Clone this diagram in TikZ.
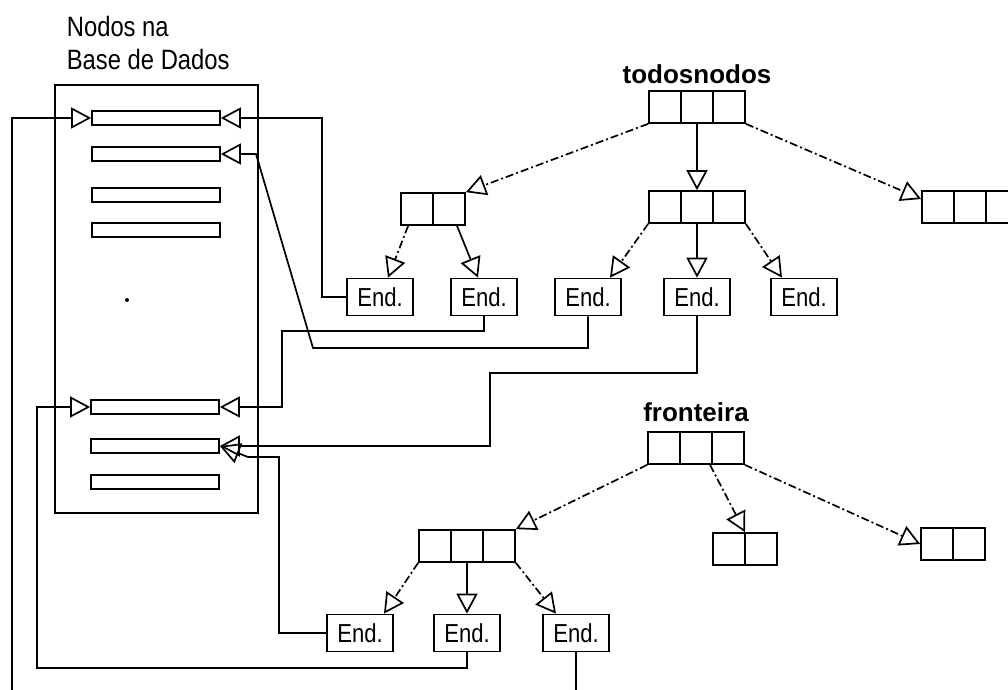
\documentclass[tikz,border=0pt]{standalone}
\usepackage{fontspec}
\setsansfont{Liberation Sans}[FakeStretch=0.85]
\newfontfamily\titlefont{Liberation Sans}
\usetikzlibrary{arrows.meta}

\begin{document}
\begin{tikzpicture}[x=0.5pt,y=-0.5pt,line width=0.85pt,
        >={Triangle[open,length=10pt,width=10.5pt]},
        bar/.style={draw,minimum width=64pt,minimum height=7pt,inner sep=0pt},
        cellsii/.style={draw,minimum width=32pt,minimum height=16pt,inner sep=0pt,
            path picture={\draw (path picture bounding box.north) -- (path picture bounding box.south);}},
        cellsiii/.style={draw,minimum width=48pt,minimum height=16pt,inner sep=0pt,
            path picture={\draw ([xshift=16pt]path picture bounding box.north west) -- ([xshift=16pt]path picture bounding box.south west);
                \draw ([xshift=-16pt]path picture bounding box.north east) -- ([xshift=-16pt]path picture bounding box.south east);}},
        endbox/.style={draw,font=\sffamily\fontsize{13}{13}\selectfont,minimum width=33pt,minimum height=18.5pt,inner sep=1pt},
        ptr/.style={dash pattern=on 4pt off 1.5pt on 1pt off 1.5pt},
        title/.style={font=\titlefont\bfseries\fontsize{13}{13}\selectfont,inner sep=0pt}]
        \useasboundingbox (0,0) rectangle (1008,690);
        \node[anchor=north west,align=left,inner sep=0pt,font=\sffamily\fontsize{14}{16.5}\selectfont] (dblabel) at (66,15) {Nodos na\\Base de Dados};
        \node[draw,minimum width=101.5pt,minimum height=214pt,inner sep=0pt] (base) at (156.5,299) {};
        \node[bar] (b1) at (156,118) {};
        \node[bar] (b2) at (156,154) {};
        \node[bar] (b3) at (156,195) {};
        \node[bar] (b4) at (156,230) {};
        \node[bar] (b5) at (155,407) {};
        \node[bar] (b6) at (155,446) {};
        \node[bar] (b7) at (155,482) {};
        \fill (127,300) circle (1pt);

        \node[title] (todos) at (697,74) {todosnodos};
        \node[cellsiii] (raiz) at (697,107) {};
        \node[cellsii] (ta) at (433,209) {};
        \node[cellsiii] (tb) at (697,207) {};
        \node[cellsiii] (tc) at (970,207) {};
        \node[endbox] (e1) at (380,297) {End.};
        \node[endbox] (e2) at (484,297) {End.};
        \node[endbox] (e3) at (588,297) {End.};
        \node[endbox] (e4) at (697,297) {End.};
        \node[endbox] (e5) at (804,297) {End.};
        \draw[ptr,->] (raiz.south west) -- (ta.north east);
        \draw[->] (raiz.south) -- (tb.north);
        \draw[ptr,->] (raiz.south east) -- ([yshift=4pt]tc.west);
        \draw[ptr,->] ([xshift=4pt]ta.south west) -- ([xshift=4pt]e1.north);
        \draw[->] ([xshift=12pt]ta.south) -- ([xshift=-3pt]e2.north);
        \draw[ptr,->] (tb.south west) -- ([xshift=11pt]e3.north);
        \draw[->] (tb.south) -- (e4.north);
        \draw[ptr,->] (tb.south east) -- ([xshift=-11pt]e5.north);

        \node[title] (front) at (696,412) {fronteira};
        \node[cellsiii] (fr) at (696,448) {};
        \node[cellsiii] (fa) at (467,546) {};
        \node[cellsii] (fb) at (745,549) {};
        \node[cellsii] (fc) at (953,544) {};
        \node[endbox] (f1) at (360,633) {End.};
        \node[endbox] (f2) at (467,633) {End.};
        \node[endbox] (f3) at (576,633) {End.};
        \draw[ptr,->] (fr.south west) -- (fa.north east);
        \draw[ptr,->] ([xshift=7pt]fr.south) -- (fb.north);
        \draw[ptr,->] (fr.south east) -- (fc.west);
        \draw[ptr,->] (fa.south west) -- ([xshift=12pt]f1.north);
        \draw[->] (fa.south) -- (f2.north);
        \draw[ptr,->] (fa.south east) -- ([xshift=-10pt]f3.north);

        \draw[->] (e1.west) -- ++(-24,0) |- (b1.east);
        \draw[->] (e2.south) |- (282,331) |- (b5.east);
        \draw[->] (e3.south) |- (313,348) -- (256,154) -- (b2.east);
        \draw[->] (e4.south) |- (490,373) |- (b6.east);
        \draw[->] (f1.west) -| (279,457) -- (248,457) -- (b6.east);
        \draw[->] (f2.south) |- (37,668) |- (b5.west);
        \draw[->] (f3.south) |- (12,700) |- (b1.west);
    \end{tikzpicture}
\end{document}
